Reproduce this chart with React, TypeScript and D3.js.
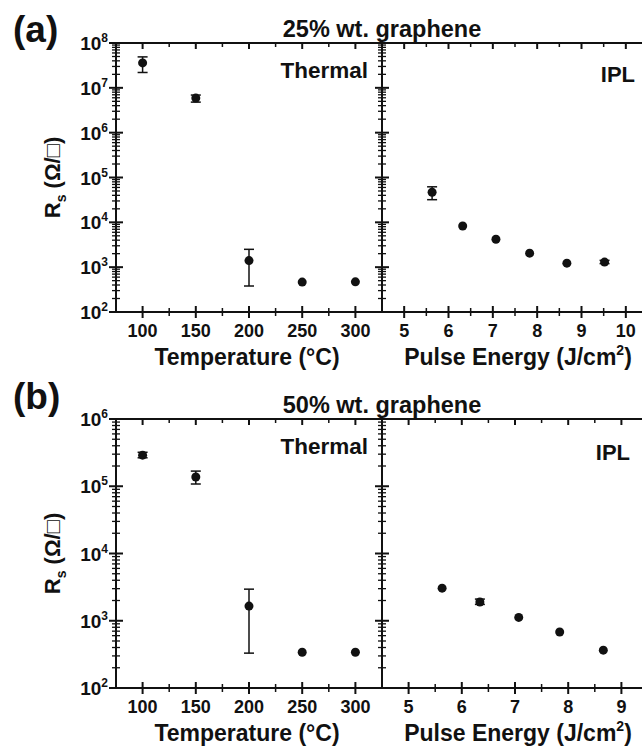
import React, { useEffect, useRef } from 'react'
import * as d3 from 'd3'

// temperatures (thermal anneal) and pulse energies (IPL)
const tempC = [100, 150, 200, 250, 300]
const energyA = [5.63, 6.32, 7.07, 7.83, 8.67, 9.52]
const energyB = [5.63, 6.34, 7.07, 7.84, 8.66]

// 25% wt. graphene
const thermalA = [3.6e7, 5.9e6, 1.4e3, 465, 470]
const thermalALo = [2.2e7, 4.8e6, 380, 465, 470]
const thermalAHi = [4.9e7, 6.9e6, 2.5e3, 465, 470]
const iplA = [4.7e4, 8.3e3, 4.2e3, 2.05e3, 1.23e3, 1.3e3]
const iplALo = [3.2e4, 8.3e3, 4.2e3, 2.05e3, 1.23e3, 1.2e3]
const iplAHi = [6.2e4, 8.3e3, 4.2e3, 2.05e3, 1.23e3, 1.42e3]

// 50% wt. graphene
const thermalB = [2.9e5, 1.37e5, 1.65e3, 340, 340]
const thermalBLo = [2.65e5, 1.08e5, 330, 340, 340]
const thermalBHi = [3.2e5, 1.68e5, 2.95e3, 340, 340]
const iplB = [3.05e3, 1.9e3, 1.12e3, 680, 365]
const iplBLo = [3.05e3, 1.75e3, 1.12e3, 680, 365]
const iplBHi = [3.05e3, 2.1e3, 1.12e3, 680, 365]

const tempTicks = [100, 150, 200, 250, 300]
const tempMinor = [125, 175, 225, 275]
const energyTicksA = [5, 6, 7, 8, 9, 10]
const energyMinorA = [5.5, 6.5, 7.5, 8.5, 9.5]
const energyTicksB = [5, 6, 7, 8, 9]
const energyMinorB = [5.5, 6.5, 7.5, 8.5]

const FONT = "Arial, 'Liberation Sans', Helvetica, sans-serif"

const panels = [
  {
    tag: '(a)', tagY: 42, title: '25% wt. graphene', titleY: 37,
    top: 43, bottom: 312, yDomain: [1e2, 1e8],
    eDomain: [4.5, 10.5], eTicks: energyTicksA, eMinor: energyMinorA,
    thermal: { x: tempC, y: thermalA, lo: thermalALo, hi: thermalAHi },
    ipl: { x: energyA, y: iplA, lo: iplALo, hi: iplAHi },
    iplRight: 635, iplBase: 82,
  },
  {
    tag: '(b)', tagY: 409, title: '50% wt. graphene', titleY: 413,
    top: 419, bottom: 688, yDomain: [1e2, 1e6],
    eDomain: [4.5, 9.5], eTicks: energyTicksB, eMinor: energyMinorB,
    thermal: { x: tempC, y: thermalB, lo: thermalBLo, hi: thermalBHi },
    ipl: { x: energyB, y: iplB, lo: iplBLo, hi: iplBHi },
    iplRight: 630, iplBase: 460,
  },
]

const LEFT = 116
const MID = 382
const RIGHT = 648

function App() {
  const ref = useRef<SVGSVGElement>(null)

  useEffect(() => {
    const svg = d3.select(ref.current)
    svg.selectAll('*').remove()

    panels.forEach((p) => {
      const g = svg.append('g')
      const y = d3.scaleLog().domain(p.yDomain).range([p.bottom, p.top])
      const xT = d3.scaleLinear().domain([75, 325]).range([LEFT, MID])
      const xE = d3.scaleLinear().domain(p.eDomain).range([MID, RIGHT])

      // frame lines
      const line = (x1, y1, x2, y2, w = 2) =>
        g.append('line').attr('x1', x1).attr('y1', y1).attr('x2', x2).attr('y2', y2)
          .attr('stroke', '#111').attr('stroke-width', w)
      line(LEFT, p.top, 642, p.top)
      line(LEFT, p.bottom, 642, p.bottom)
      line(LEFT, p.top, LEFT, p.bottom)
      line(MID, p.top, MID, p.bottom)

      // y ticks (log) crossing the left and middle axes
      const [d0, d1] = p.yDomain.map(Math.log10)
      for (let d = d0; d <= d1; d++) {
        const yy = y(Math.pow(10, d))
        ;[LEFT, MID].forEach((ax) => line(ax - 7, yy, ax + 7, yy, 2))
        if (d < d1) {
          for (let m = 2; m <= 9; m++) {
            const ym = y(m * Math.pow(10, d))
            ;[LEFT, MID].forEach((ax) => line(ax - 4, ym, ax + 4, ym, 1.3))
          }
        }
        const t = g.append('text').attr('x', 108).attr('y', yy + 7)
          .attr('text-anchor', 'end').attr('font-family', FONT)
          .attr('font-weight', 'bold').attr('font-size', 19).attr('fill', '#111')
        t.append('tspan').text('10')
        t.append('tspan').attr('dy', -8).attr('font-size', 12).text(String(d))
      }

      // x ticks
      const xTicks = (scale, major, minor, fmt) => {
        major.forEach((v) => {
          const xx = scale(v)
          line(xx, p.bottom - 6, xx, p.bottom + 6, 2)
          line(xx, p.top, xx, p.top + 6, 2)
          g.append('text').attr('x', xx).attr('y', p.bottom + 25)
            .attr('text-anchor', 'middle').attr('font-family', FONT)
            .attr('font-weight', 'bold').attr('font-size', 18).attr('fill', '#111')
            .text(fmt(v))
        })
        minor.forEach((v) => {
          const xx = scale(v)
          line(xx, p.bottom - 4, xx, p.bottom + 4, 1.5)
          line(xx, p.top, xx, p.top + 4, 1.5)
        })
      }
      xTicks(xT, tempTicks, tempMinor, String)
      xTicks(xE, p.eTicks, p.eMinor, String)

      // data with error bars
      const series = (s, x) => {
        s.x.forEach((v, i) => {
          const xx = x(v)
          if (s.hi[i] !== s.lo[i]) {
            line(xx, y(s.hi[i]), xx, y(s.lo[i]), 1.5)
            line(xx - 5, y(s.hi[i]), xx + 5, y(s.hi[i]), 1.5)
            line(xx - 5, y(s.lo[i]), xx + 5, y(s.lo[i]), 1.5)
          }
          g.append('circle').attr('cx', xx).attr('cy', y(s.y[i])).attr('r', 4.5).attr('fill', '#111')
        })
      }
      series(p.thermal, xT)
      series(p.ipl, xE)

      const text = (x, yy, str, size, anchor = 'middle') =>
        g.append('text').attr('x', x).attr('y', yy).attr('text-anchor', anchor)
          .attr('font-family', FONT).attr('font-weight', 'bold')
          .attr('font-size', size).attr('fill', '#111').text(str)

      text(13, p.tagY, p.tag, 37, 'start')
      text(MID, p.titleY, p.title, 23.5)
      text(368, p.top + 35, 'Thermal', 22.5, 'end')
      text(p.iplRight, p.iplBase, 'IPL', 22, 'end')
      text(247, p.bottom + 53, 'Temperature (°C)', 23)

      const pe = text(518, p.bottom + 53, 'Pulse Energy (J/cm', 23)
      pe.append('tspan').attr('dy', -10).attr('font-size', 14).text('2')
      pe.append('tspan').attr('dy', 10).text(')')

      // y label
      const cy = (p.top + p.bottom) / 2
      const yl = g.append('text').attr('transform', `translate(60,${cy}) rotate(-90)`)
        .attr('text-anchor', 'middle').attr('font-family', FONT)
        .attr('font-weight', 'bold').attr('font-size', 22).attr('fill', '#111')
      yl.append('tspan').text('R')
      yl.append('tspan').attr('dy', 6).attr('font-size', 14).text('s')
      yl.append('tspan').attr('dy', -6).text(' (Ω/□)')
    })
  }, [])

  return (
    <svg
      ref={ref}
      width={642}
      height={746}
      style={{ position: 'absolute', left: 0, top: 0, background: '#fff' }}
    />
  )
}

export default App
